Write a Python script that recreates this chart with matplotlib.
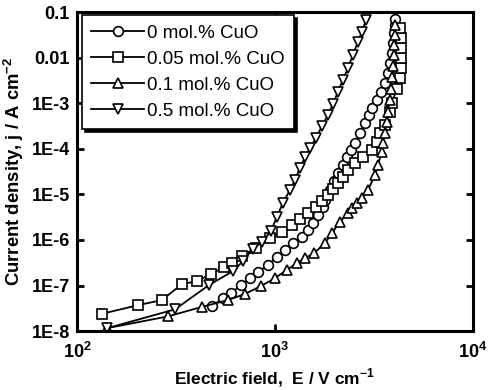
import matplotlib
matplotlib.use("Agg")
import matplotlib.pyplot as plt
from matplotlib.ticker import FixedLocator, FixedFormatter, NullLocator

plt.rcParams['font.family'] = ['Liberation Sans', 'DejaVu Sans']
plt.rcParams['mathtext.fontset'] = 'custom'
plt.rcParams['mathtext.rm'] = 'Liberation Sans:bold'
plt.rcParams['mathtext.bf'] = 'Liberation Sans:bold'

# ---- data ----
labels = ['0 mol.% CuO', '0.05 mol.% CuO', '0.1 mol.% CuO', '0.5 mol.% CuO']

E_0 = [481, 546, 600, 673, 748, 820, 922, 1023, 1124, 1233, 1368, 1469, 1556,
       1648, 1746, 1800, 1897, 1985, 2080, 2203, 2310, 2420, 2535, 2686, 2850,
       2985, 3091, 3275, 3430, 3594, 3723, 3810, 3899, 3944, 3990, 4037, 4037]
j_0 = [3.5e-8, 5.3e-8, 6.8e-8, 1.02e-7, 1.45e-7, 1.97e-7, 2.8e-7, 4.2e-7, 6.0e-7,
       8.5e-7, 1.15e-6, 1.64e-6, 2.33e-6, 3.5e-6, 5.2e-6, 7.5e-6, 1.24e-5, 1.95e-5,
       2.9e-5, 4.4e-5, 6.5e-5, 9.3e-5, 1.33e-4, 2.2e-4, 3.6e-4, 5.5e-4, 7.8e-4,
       1.16e-3, 1.74e-3, 2.75e-3, 4.55e-3, 7.5e-3, 0.0125, 0.0207, 0.0343, 0.0514,
       0.0695]

E_005 = [134, 203, 269, 339, 404, 475, 552, 607, 681, 800, 944, 1084, 1219, 1337,
         1469, 1611, 1727, 1853, 1963, 2080, 2203, 2336, 2535, 2782, 3091, 3275,
         3390, 3594, 3810, 3899, 4131, 4277, 4329, 4329, 4329, 4329, 4277]
j_005 = [2.4e-8, 3.7e-8, 4.8e-8, 1.07e-7, 1.25e-7, 1.78e-7, 2.5e-7, 3.1e-7, 4.4e-7,
         6.8e-7, 1.1e-6, 1.48e-6, 2.1e-6, 2.86e-6, 3.9e-6, 5.2e-6, 7.1e-6, 9.6e-6,
         1.3e-5, 1.76e-5, 2.38e-5, 3.4e-5, 4.8e-5, 6.5e-5, 9.3e-5, 1.4e-4, 2.2e-4,
         3.3e-4, 6.4e-4, 1.0e-3, 2.1e-3, 3.5e-3, 5.8e-3, 9.7e-3, 0.016, 0.0266, 0.044]

E_01 = [142, 288, 428, 579, 705, 849, 1000, 1150, 1291, 1418, 1574, 1791, 1941,
        2128, 2336, 2448, 2594, 2749, 2951, 3201, 3314, 3470, 3510, 3594, 3680,
        3723, 3810, 3855, 3899, 3944, 3990, 3990, 4037, 4037]
j_01 = [1.16e-8, 2.1e-8, 3.4e-8, 4.8e-8, 6.5e-8, 9.7e-8, 1.45e-7, 2.2e-7, 3.1e-7,
        4.0e-7, 5.1e-7, 8.5e-7, 1.41e-6, 2.45e-6, 3.9e-6, 5.0e-6, 6.4e-6, 8.3e-6,
        1.24e-5, 2.6e-5, 4.4e-5, 8.4e-5, 1.33e-4, 2.2e-4, 3.8e-4, 6.4e-4, 1.16e-3,
        2.1e-3, 3.7e-3, 6.5e-3, 0.0113, 0.0187, 0.031, 0.0514]

E_05 = [142, 313, 464, 614, 689, 774, 860, 955, 1023, 1097, 1191, 1262, 1337, 1418,
        1503, 1611, 1727, 1853, 1963, 2080, 2203, 2336, 2477, 2624, 2749, 2884]
j_05 = [1.16e-8, 3.0e-8, 1.02e-7, 2.07e-7, 3.4e-7, 6.3e-7, 8.9e-7, 1.56e-6, 3.2e-6,
        6.4e-6, 1.24e-5, 2.05e-5, 3.75e-5, 6.5e-5, 1.03e-4, 1.7e-4, 3.1e-4, 5.5e-4,
        9.5e-4, 1.74e-3, 3.19e-3, 5.8e-3, 0.0113, 0.0218, 0.036, 0.066]

xticks = [1e2, 1e3, 1e4]
xticklabels = [r'$\mathbf{10^{2}}$', r'$\mathbf{10^{3}}$', r'$\mathbf{10^{4}}$']
yticks = [1e-8, 1e-7, 1e-6, 1e-5, 1e-4, 1e-3, 1e-2, 1e-1]
yticklabels = ['1E-8', '1E-7', '1E-6', '1E-5', '1E-4', '1E-3', '0.01', '0.1']

series = [(E_0, j_0, 'o'), (E_005, j_005, 's'), (E_01, j_01, '^'), (E_05, j_05, 'v')]

fig = plt.figure(figsize=(4.93, 3.90), dpi=100)
ax = fig.add_axes([0.156, 0.151, 0.803, 0.818])

for (E, j, m), lab in zip(series, labels):
    ax.plot(E, j, color='black', lw=1.3, marker=m, markersize=7,
            markerfacecolor='white', markeredgecolor='black', markeredgewidth=1.2,
            label=lab)

ax.set_xscale('log')
ax.set_yscale('log')
ax.set_xlim(1e2, 1e4)
ax.set_ylim(1e-8, 1e-1)

ax.xaxis.set_major_locator(FixedLocator(xticks))
ax.xaxis.set_major_formatter(FixedFormatter(xticklabels))
ax.xaxis.set_minor_locator(NullLocator())
ax.yaxis.set_major_locator(FixedLocator(yticks))
ax.yaxis.set_major_formatter(FixedFormatter(yticklabels))
ax.yaxis.set_minor_locator(NullLocator())

ax.tick_params(axis='both', which='major', direction='in', length=5, width=2,
               top=True, right=True, labelsize=13, pad=5)
ax.tick_params(axis='x', pad=8)
for lab in ax.get_yticklabels():
    lab.set_fontweight('bold')
for sp in ax.spines.values():
    sp.set_linewidth(2.2)

ax.set_xlabel(r'Electric field,  E / V cm$^{\mathbf{-1}}$', fontsize=12.5,
              fontweight='bold', labelpad=3)
ax.set_ylabel(r'Current density, j / A cm$^{\mathbf{-2}}$', fontsize=13.3,
              fontweight='bold', labelpad=4)

leg = ax.legend(loc='upper left', bbox_to_anchor=(0.013, 0.99), borderaxespad=0,
                fontsize=13.5, handlelength=2.8, handletextpad=0.15,
                labelspacing=0.47, borderpad=0.5, fancybox=False,
                shadow={'color': 'black', 'alpha': 1})
leg.get_frame().set_edgecolor('black')
leg.get_frame().set_linewidth(1.2)

fig.savefig('out.png', dpi=100)
